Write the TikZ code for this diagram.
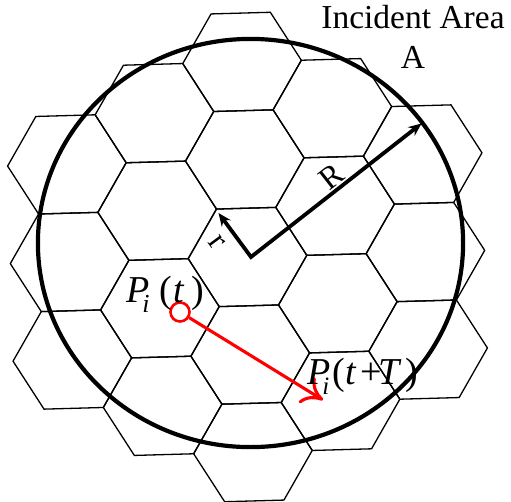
\documentclass[tikz,border=0pt]{standalone}
\usepackage{fontspec}
\setmainfont{Liberation Serif}
\usetikzlibrary{arrows.meta}
\begin{document}
\begin{tikzpicture}[x=1pt,y=-1pt,
  hexline/.style={line width=1.3pt},
  bigcircle/.style={line width=4.2pt},
  radiusarrow/.style={line width=3.8pt,line join=miter,{Stealth[length=13pt,width=11pt]}-{Stealth[length=13pt,width=11pt]}},
  movearrow/.style={red,line width=3.1pt,-{To[length=20pt,width=30pt]}},
  bigtext/.style={inner sep=0pt,font=\fontsize{33.5}{38}\selectfont},
  radtext/.style={inner sep=0pt,font=\fontsize{32}{34}\selectfont},
  mathtext/.style={inner sep=0pt,anchor=base west,font=\fontsize{38}{40}\selectfont}
]
\useasboundingbox (0,0) rectangle (511,501);
\begin{scope}[shift={(247.5,257)},rotate=1.6]
\foreach \c/\r in {0/-2,0/-1,0/0,0/1,0/2,-1/-1.5,-1/-0.5,-1/0.5,-1/1.5,1/-1.5,1/-0.5,1/0.5,1/1.5,-2/-1,-2/0,-2/1,2/-1,2/0,2/1}
  \draw[hexline,shift={(\c*89,\r*97.6)}] (-59.3,0) -- (-29.65,-48.8) -- (29.65,-48.8) -- (59.3,0) -- (29.65,48.8) -- (-29.65,48.8) -- cycle;
\end{scope}
\draw[bigcircle] (250.5,243) ellipse [x radius=212.6, y radius=204.1];
\coordinate (O) at (251,257);
\coordinate (Rtip) at (421.5,123.5);
\coordinate (rtip) at (218.5,213);
\draw[radiusarrow] (rtip) -- (O) -- (Rtip);
\node[radtext,rotate=38] (Rlbl) at (331,177) {R};
\node[radtext,rotate=-53.6] (rlbl) at (217,242) {r};
\node[bigtext,anchor=base] (incident) at (413,28) {Incident Area};
\node[bigtext,anchor=base] (areaA) at (413,68) {A};
\node[draw=red,line width=2.6pt,circle,minimum size=19pt,inner sep=0pt] (Pt) at (180,312) {};
\coordinate (PtT) at (323,400);
\draw[movearrow] (Pt) -- (PtT);
\node[mathtext] (Plbl) at (126,302) {\textit{P}\kern-7pt\raisebox{-10pt}{\fontsize{26}{26}\selectfont\textit{i}}\kern10pt(\kern1pt\textit{t}\kern7pt)};
\node[mathtext] (PTlbl) at (307,384) {\textit{P}\kern-8pt\raisebox{-10pt}{\fontsize{25}{25}\selectfont\textit{i}}\kern3pt(\textit{t}\kern4pt+\kern-3.4pt\textit{T}\kern4pt)};
\end{tikzpicture}
\end{document}
